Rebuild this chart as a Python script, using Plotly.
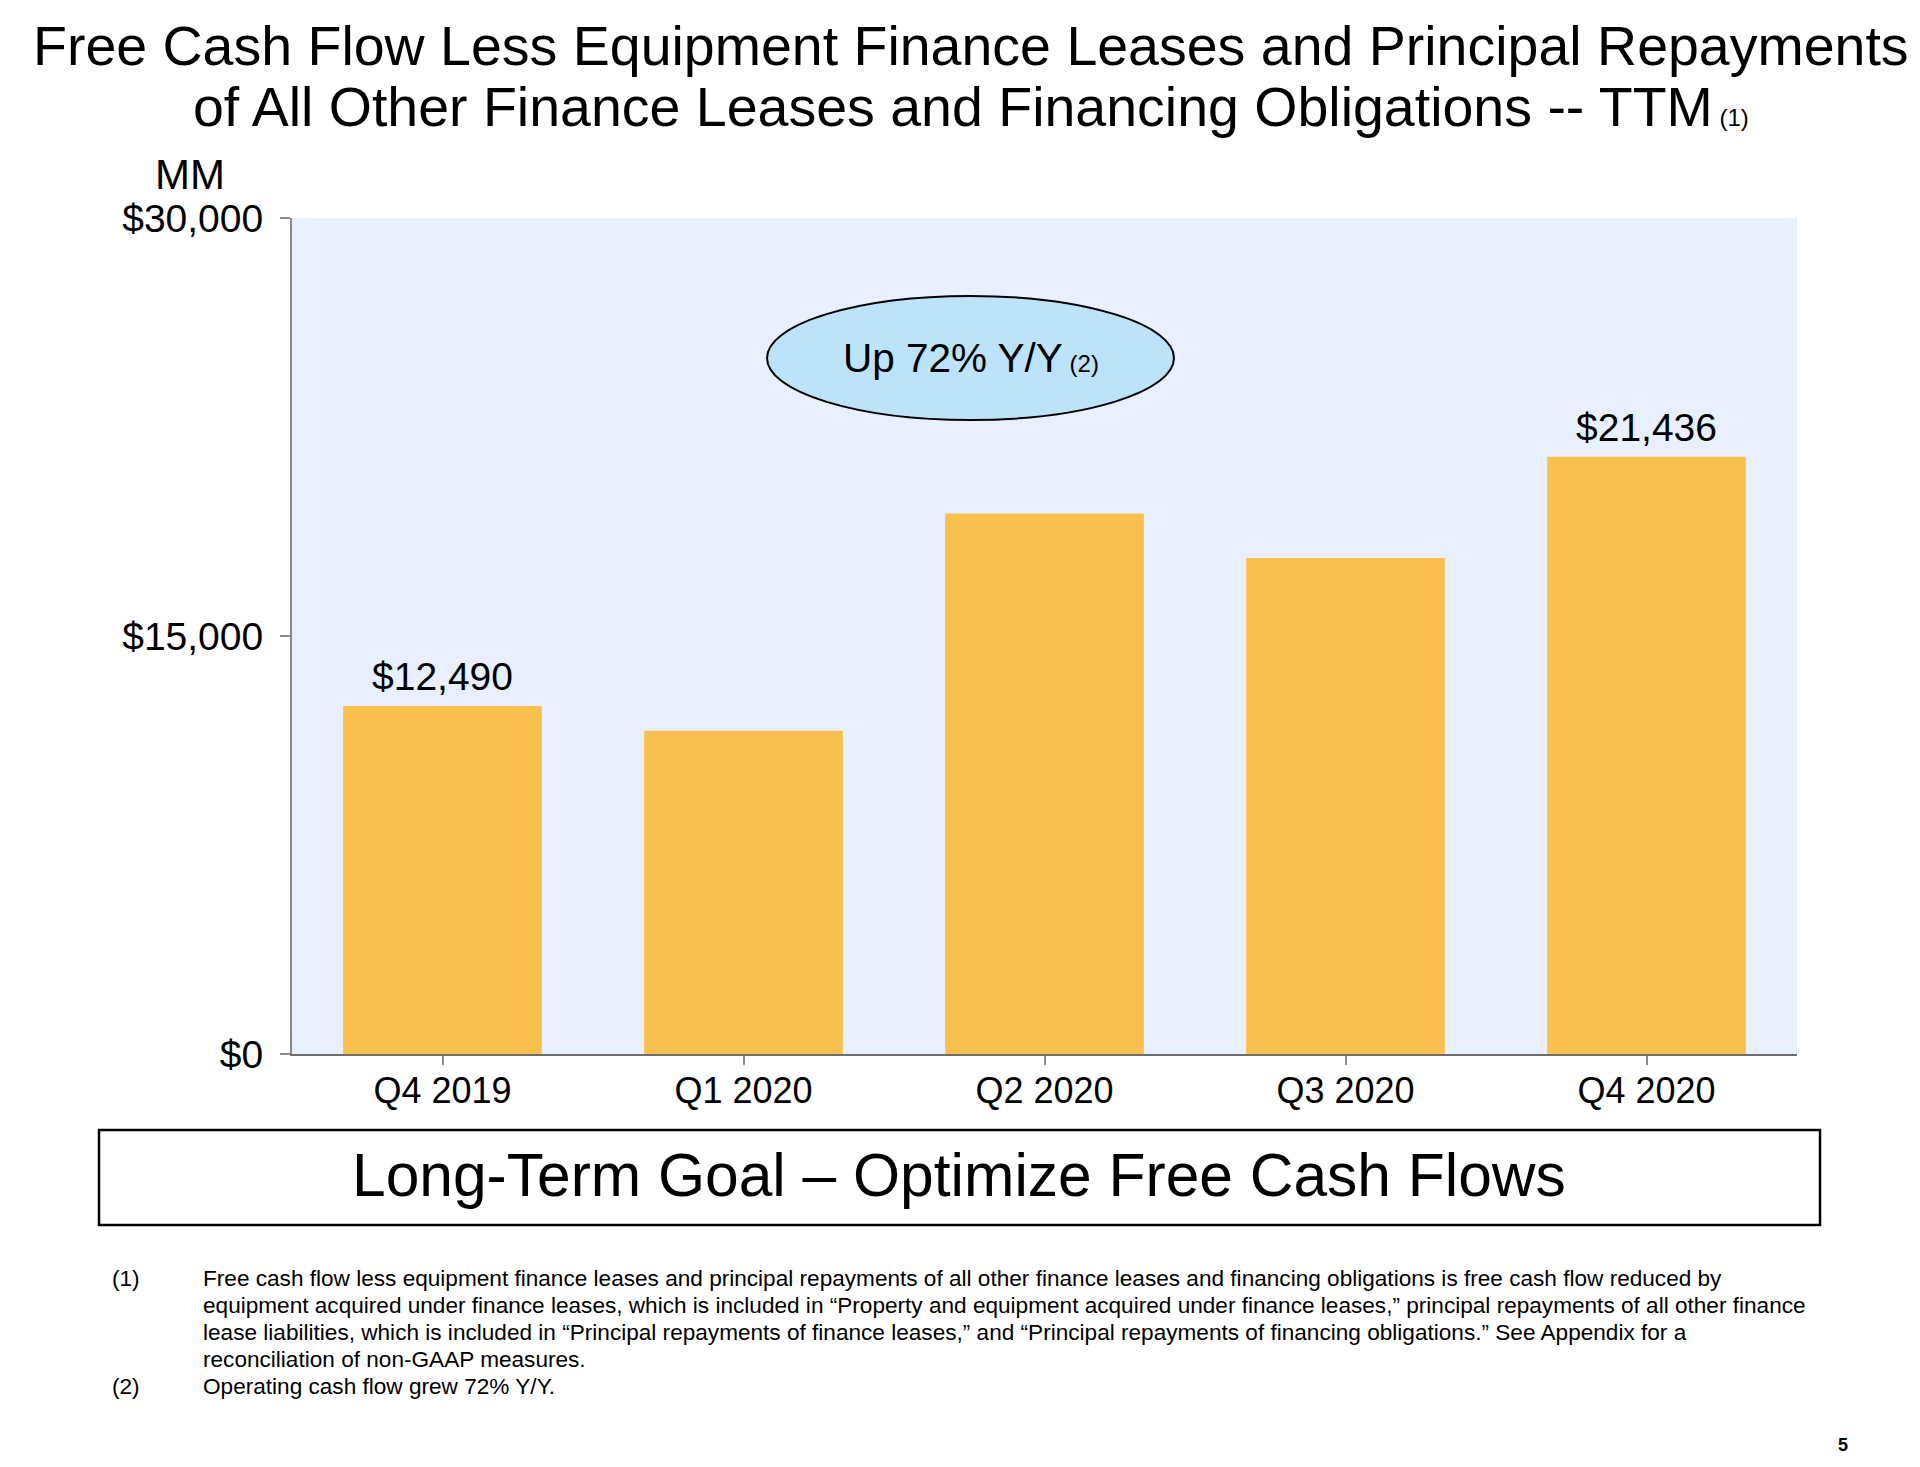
import plotly.graph_objects as go

# ---------------- data ----------------
quarters = ["Q4 2019", "Q1 2020", "Q2 2020", "Q3 2020", "Q4 2020"]
fcf_values = [12490, 11600, 19400, 17800, 21436]
labeled_quarters = ["Q4 2019", "Q4 2020"]

y_tick_values = [0, 15000, 30000]
y_tick_labels = ["$0", "$15,000", "$30,000"]

title_line1 = "Free Cash Flow Less Equipment Finance Leases and Principal Repayments"
title_line2 = "of All Other Finance Leases and Financing Obligations -- TTM"
callout_text = "Up 72% Y/Y"
goal_text = "Long-Term Goal \u2013 Optimize Free Cash Flows"
footnote_1 = [
    "Free cash flow less equipment finance leases and principal repayments of all other finance leases and financing obligations is free cash flow reduced by",
    "equipment acquired under finance leases, which is included in \u201cProperty and equipment acquired under finance leases,\u201d principal repayments of all other finance",
    "lease liabilities, which is included in \u201cPrincipal repayments of finance leases,\u201d and \u201cPrincipal repayments of financing obligations.\u201d See Appendix for a",
    "reconciliation of non-GAAP measures.",
]
footnote_2 = "Operating cash flow grew 72% Y/Y."

# ---------------- layout geometry ----------------
OFF = 8                      # default page body margin
W, H = 1920 - 2 * OFF, 1467 - 2 * OFF
PL, PR, PT, PB = 292, 1797, 218, 1054   # plot area in page pixels
FONT = "Liberation Sans, Arial, Helvetica, sans-serif"
BAR_COLOR = "#F9BF4F"
BG_COLOR = "#E8F0FD"


def px(xp):
    return (xp - PL) / (PR - PL)


def py(yp):
    return (PB - yp) / (PB - PT)


fig = go.Figure()
fig.add_trace(go.Bar(
    x=quarters,
    y=fcf_values,
    marker=dict(color=BAR_COLOR, line=dict(width=0)),
    hoverinfo="skip",
))

annotations = []
# data labels above first and last bars
for q, v in zip(quarters, fcf_values):
    if q in labeled_quarters:
        annotations.append(dict(
            x=q, y=v, xref="x", yref="y", text=f"${v:,.0f}",
            showarrow=False, yanchor="bottom", yshift=6,
            font=dict(family=FONT, size=39, color="black"),
        ))

# "MM" unit label
annotations.append(dict(
    x=px(190), y=py(174), xref="paper", yref="paper", text="MM",
    showarrow=False, xanchor="center", yanchor="middle",
    font=dict(family=FONT, size=42, color="black"),
))

# Title lines
annotations.append(dict(
    x=px(971), y=py(46), xref="paper", yref="paper", text=title_line1,
    showarrow=False, xanchor="center", yanchor="middle",
    font=dict(family=FONT, size=55.5, color="black"),
))
annotations.append(dict(
    x=px(971), y=py(107), xref="paper", yref="paper",
    text=title_line2 + "<span style='font-size:24px'> (1)</span>",
    showarrow=False, xanchor="center", yanchor="middle",
    font=dict(family=FONT, size=55.5, color="black"),
))

# Callout text inside ellipse
annotations.append(dict(
    x=px(971), y=py(358), xref="paper", yref="paper",
    text=callout_text + "<span style='font-size:24px'> (2)</span>",
    showarrow=False, xanchor="center", yanchor="middle",
    font=dict(family=FONT, size=40.5, color="black"),
))

# Goal box text
annotations.append(dict(
    x=px(959), y=py(1175), xref="paper", yref="paper", text=goal_text,
    showarrow=False, xanchor="center", yanchor="middle",
    font=dict(family=FONT, size=60.5, color="black"),
))

# Footnotes
FN = 22.6
foot_y = [1278, 1305, 1332, 1359]
annotations.append(dict(
    x=px(110), y=py(foot_y[0]), xref="paper", yref="paper", text="(1)",
    showarrow=False, xanchor="left", yanchor="middle",
    font=dict(family=FONT, size=FN, color="black"),
))
for line, yy in zip(footnote_1, foot_y):
    annotations.append(dict(
        x=px(201), y=py(yy), xref="paper", yref="paper", text=line,
        showarrow=False, xanchor="left", yanchor="middle",
        font=dict(family=FONT, size=FN, color="black"),
    ))
annotations.append(dict(
    x=px(110), y=py(1386), xref="paper", yref="paper", text="(2)",
    showarrow=False, xanchor="left", yanchor="middle",
    font=dict(family=FONT, size=FN, color="black"),
))
annotations.append(dict(
    x=px(201), y=py(1386), xref="paper", yref="paper", text=footnote_2,
    showarrow=False, xanchor="left", yanchor="middle",
    font=dict(family=FONT, size=FN, color="black"),
))

# Page number
annotations.append(dict(
    x=px(1843), y=py(1445), xref="paper", yref="paper", text="<b>5</b>",
    showarrow=False, xanchor="center", yanchor="middle",
    font=dict(family=FONT, size=18, color="black"),
))

shapes = [
    dict(type="circle", xref="paper", yref="paper",
         x0=px(767), x1=px(1174), y0=py(420), y1=py(296),
         fillcolor="#BCE3F9", line=dict(color="black", width=2)),
    dict(type="rect", xref="paper", yref="paper",
         x0=px(99), x1=px(1820), y0=py(1225), y1=py(1130),
         fillcolor="rgba(0,0,0,0)", line=dict(color="black", width=2.5)),
]

fig.update_layout(
    width=W, height=H,
    margin=dict(l=PL - OFF, r=(W + OFF) - PR, t=PT - OFF, b=(H + OFF) - PB, pad=0),
    paper_bgcolor="white",
    plot_bgcolor=BG_COLOR,
    bargap=0.34,
    showlegend=False,
    font=dict(family=FONT, color="black"),
    annotations=annotations,
    shapes=shapes,
    xaxis=dict(
        type="category",
        showline=True, linecolor="#6E6E6E", linewidth=2,
        ticks="outside", ticklen=9, tickwidth=1.5, tickcolor="#8A8A8A",
        tickfont=dict(family=FONT, size=36, color="black"),
        ticklabelstandoff=-5,
        showgrid=False, zeroline=False, fixedrange=True,
    ),
    yaxis=dict(
        range=[0, 30000],
        tickvals=y_tick_values, ticktext=y_tick_labels,
        showline=True, linecolor="#8A8A8A", linewidth=2,
        ticks="outside", ticklen=10, tickwidth=1.5, tickcolor="#8A8A8A",
        tickfont=dict(family=FONT, size=39, color="black"),
        ticklabelstandoff=9,
        showgrid=False, zeroline=False, fixedrange=True,
    ),
)

fig.write_html("out.html")
